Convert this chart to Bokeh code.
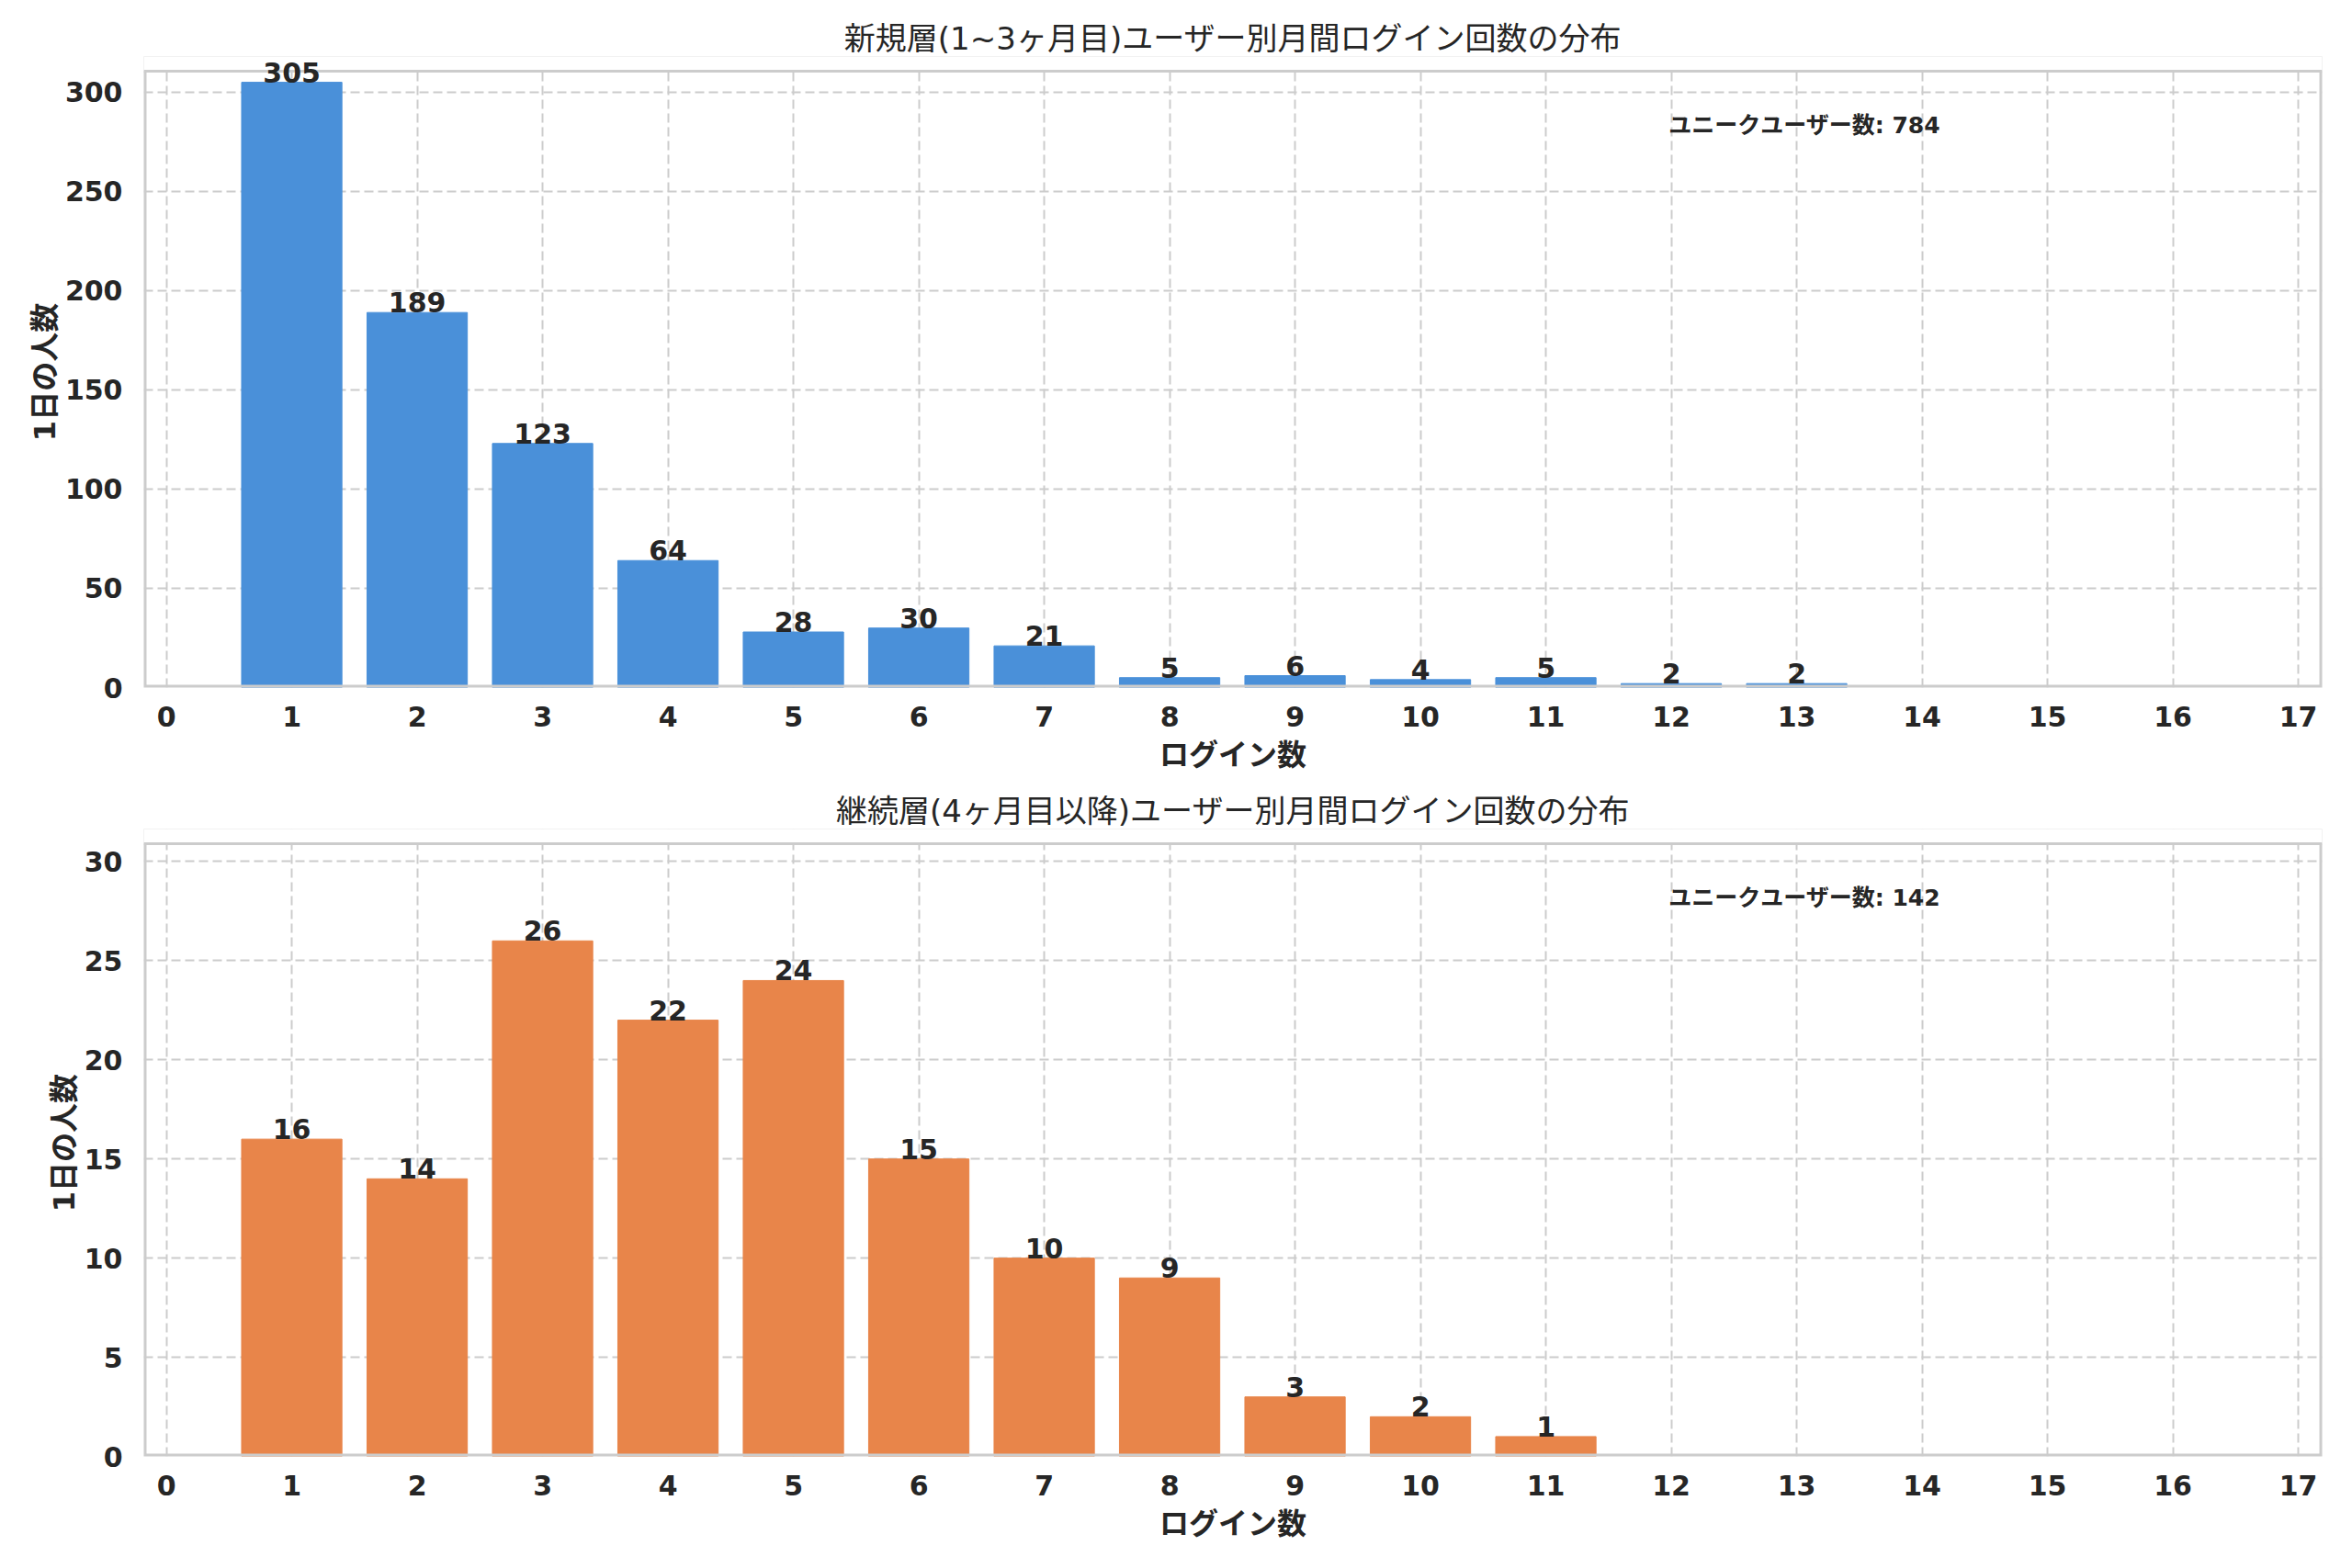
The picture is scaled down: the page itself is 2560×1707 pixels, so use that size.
from bokeh.plotting import figure
from bokeh.layouts import column
from bokeh.models import ColumnDataSource, Range1d, FixedTicker, Label, BoxAnnotation, Span
from bokeh.embed import file_html
from bokeh.resources import INLINE

# ---- data ----
x_ticks = list(range(0, 18))

new_x = [1, 2, 3, 4, 5, 6, 7, 8, 9, 10, 11, 12, 13]
new_counts = [305, 189, 123, 64, 28, 30, 21, 5, 6, 4, 5, 2, 2]
new_title = "新規層(1~3ヶ月目)ユーザー別月間ログイン回数の分布"
new_yticks = [0, 50, 100, 150, 200, 250, 300]

old_x = [1, 2, 3, 4, 5, 6, 7, 8, 9, 10, 11]
old_counts = [16, 14, 26, 22, 24, 15, 10, 9, 3, 2, 1]
old_title = "継続層(4ヶ月目以降)ユーザー別月間ログイン回数の分布"
old_yticks = [0, 5, 10, 15, 20, 25, 30]

x_label = "ログイン数"
y_label = "1日の人数"
total_label = "ユニークユーザー数"

FONT = "DejaVu Sans, Noto Sans CJK JP"
DARK = "#262626"
EDGE = "#cccccc"
EXTRA = 16  # extra pixels above the visible axes box, so value labels are not cut


def make_plot(xs, ys, color, title, ymax, yticks, height, b_top, b_bottom):
    frame_h = height - b_top - b_bottom
    y_end = ymax * (frame_h + EXTRA) / frame_h
    x0r, x1r = -0.18, 17.19
    p = figure(width=2544, height=height, output_backend="svg", toolbar_location=None,
               x_range=Range1d(x0r, x1r), y_range=Range1d(0, y_end),
               min_border_left=156, min_border_right=17,
               min_border_top=b_top - EXTRA, min_border_bottom=b_bottom)
    p.background_fill_color = "white"
    p.border_fill_color = "white"
    p.outline_line_color = None

    p.title.text = title
    p.title.text_font = FONT
    p.title.text_font_size = "34px"
    p.title.text_font_style = "normal"
    p.title.text_color = DARK
    p.title.align = "center"
    p.title.standoff = 0

    for ax in (p.xaxis, p.yaxis):
        ax.axis_line_color = None
        ax.major_tick_line_color = None
        ax.minor_tick_line_color = None
        ax.major_label_text_font = FONT
        ax.major_label_text_font_size = "30px"
        ax.major_label_text_font_style = "bold"
        ax.major_label_text_color = DARK
        ax.axis_label_text_font = FONT
        ax.axis_label_text_font_size = "32px"
        ax.axis_label_text_font_style = "bold"
        ax.axis_label_text_color = DARK

    p.xaxis.ticker = FixedTicker(ticks=x_ticks)
    p.yaxis.ticker = FixedTicker(ticks=yticks)
    p.yaxis.bounds = (0, ymax)
    p.xaxis.major_label_standoff = 14
    p.yaxis.major_label_standoff = 17
    p.xaxis.axis_label = x_label
    p.yaxis.axis_label = y_label
    p.xaxis.axis_label_standoff = 9
    p.yaxis.axis_label_standoff = 0

    for g in (p.xgrid, p.ygrid):
        g.grid_line_color = EDGE
        g.grid_line_width = 2
        g.grid_line_dash = "10 5"

    src = ColumnDataSource(dict(x=xs, top=ys))
    p.vbar(x="x", top="top", width=0.8, bottom=0, source=src,
           fill_color=color, line_color=color, line_width=1)

    # axes box (left, right, bottom edges), then blank strip above it, then top edge
    p.add_layout(BoxAnnotation(left=x0r, right=x1r, bottom=0, top=y_end,
                               fill_color=None, fill_alpha=0,
                               line_color=EDGE, line_alpha=1, line_width=6))
    p.add_layout(BoxAnnotation(left=x0r - 1, right=x1r + 1, bottom=ymax, top=y_end * 1.5,
                               fill_color="white", fill_alpha=1,
                               line_color=None))
    p.add_layout(Span(location=ymax, dimension="width",
                      line_color=EDGE, line_alpha=1, line_width=3))

    # value labels
    for xv, yv in zip(xs, ys):
        p.add_layout(Label(x=xv, y=yv, text=str(yv),
                           text_align="center", text_baseline="bottom",
                           text_font=FONT, text_font_size="30px",
                           text_font_style="bold", text_color=DARK))

    xa = x0r + 0.7 * (x1r - x0r)
    lbl = Label(x=xa, y=ymax * 0.912, text=f"{total_label}: {sum(ys)}",
                text_font=FONT, text_font_size="25px", text_font_style="bold",
                text_color=DARK, text_baseline="middle", text_align="left")
    p.add_layout(lbl)
    return p


p1 = make_plot(new_x, new_counts, "#4A90D9", new_title, 310.6, new_yticks, 846, 77, 98)
p2 = make_plot(old_x, old_counts, "#E8854A", old_title, 30.9, old_yticks, 845, 72, 106)

layout = column(p1, p2, spacing=0)
open("out.html", "w").write(file_html(layout, INLINE))
